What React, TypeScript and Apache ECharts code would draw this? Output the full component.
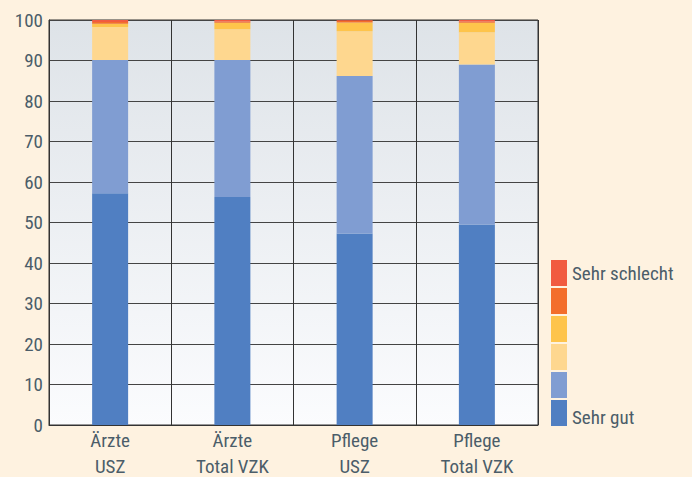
import React, { useEffect, useRef } from "react";
import * as echarts from "echarts";

const categories = ["Ärzte\nUSZ", "Ärzte\nTotal VZK", "Pflege\nUSZ", "Pflege\nTotal VZK"];
const seriesNames = ["Sehr gut", "Gut", "Mittel", "Eher schlecht", "Schlecht", "Sehr schlecht"];
const sehrGut = [57.2, 56.3, 47.3, 49.5];
const gut = [32.9, 33.8, 38.9, 39.5];
const mittel = [8.2, 7.6, 11.0, 8.0];
const eherSchlecht = [0.8, 1.6, 2.2, 2.3];
const schlecht = [0.4, 0.3, 0.4, 0.3];
const sehrSchlecht = [0.5, 0.4, 0.2, 0.4];
const yTicks = [0, 10, 20, 30, 40, 50, 60, 70, 80, 90, 100];
const colors = ["#507FC2", "#809DD2", "#FED78F", "#FEC44B", "#F36E2B", "#F15B40"];

const FONT = "'Liberation Sans Narrow', 'Roboto Condensed', 'Liberation Sans', sans-serif";
const TEXT = "#4B5D69";
const FS = 19;

export default function App() {
  const ref = useRef<HTMLDivElement>(null);
  useEffect(() => {
    if (!ref.current) return;
    const chart = echarts.init(ref.current, null, { renderer: "svg" });
    const values = [sehrGut, gut, mittel, eherSchlecht, schlecht, sehrSchlecht];
    chart.setOption({
      animation: false,
      backgroundColor: "#FEF2E0",
      textStyle: { fontFamily: FONT },
      grid: {
        left: 49,
        top: 20,
        right: 154,
        bottom: 52,
        outerBoundsMode: "none",
        containLabel: false,
        show: true,
        borderColor: "#333",
        borderWidth: 1,
        backgroundColor: new echarts.graphic.LinearGradient(0, 0, 0, 1, [
          { offset: 0, color: "#DEE3E8" },
          { offset: 1, color: "#FBFCFE" },
        ]),
      },
      legend: {
        orient: "vertical",
        left: 551,
        top: 260,
        padding: 0,
        itemWidth: 16,
        itemHeight: 26,
        itemGap: 2,
        icon: "rect",
        data: seriesNames.slice().reverse(),
        formatter: (n: string) =>
          n === "Sehr schlecht" ? n : n === "Sehr gut" ? "{low|" + n + "}" : "",
        textStyle: {
          color: TEXT,
          fontSize: FS,
          fontFamily: FONT,
          rich: {
            low: { color: TEXT, fontSize: FS, fontFamily: FONT, padding: [8, 0, 0, 0] },
          },
        },
        selectedMode: false,
      },
      xAxis: {
        type: "category",
        data: categories,
        boundaryGap: true,
        axisLine: { lineStyle: { color: "#333", width: 1 } },
        axisTick: { show: false },
        splitLine: { show: true, lineStyle: { color: "#333", width: 1 } },
        axisLabel: { color: TEXT, fontSize: FS, lineHeight: 26, margin: 2, fontFamily: FONT },
      },
      yAxis: {
        type: "value",
        min: 0,
        max: 100,
        interval: 10,
        axisLine: { show: true, lineStyle: { color: "#333" } },
        axisTick: { show: false },
        splitLine: { show: true, lineStyle: { color: "#444", width: 1 } },
        axisLabel: {
          color: TEXT,
          fontSize: FS,
          margin: 6,
          fontFamily: FONT,
          formatter: (v: number) => (yTicks.includes(v) ? String(v) : ""),
        },
      },
      series: seriesNames.map((name, i) => ({
        name,
        type: "bar",
        stack: "total",
        barWidth: 36,
        data: values[i],
        itemStyle: { color: colors[i] },
      })),
    });
    return () => chart.dispose();
  }, []);
  return <div ref={ref} style={{ width: 692, height: 477, position: "absolute", left: 0, top: 0 }} />;
}
